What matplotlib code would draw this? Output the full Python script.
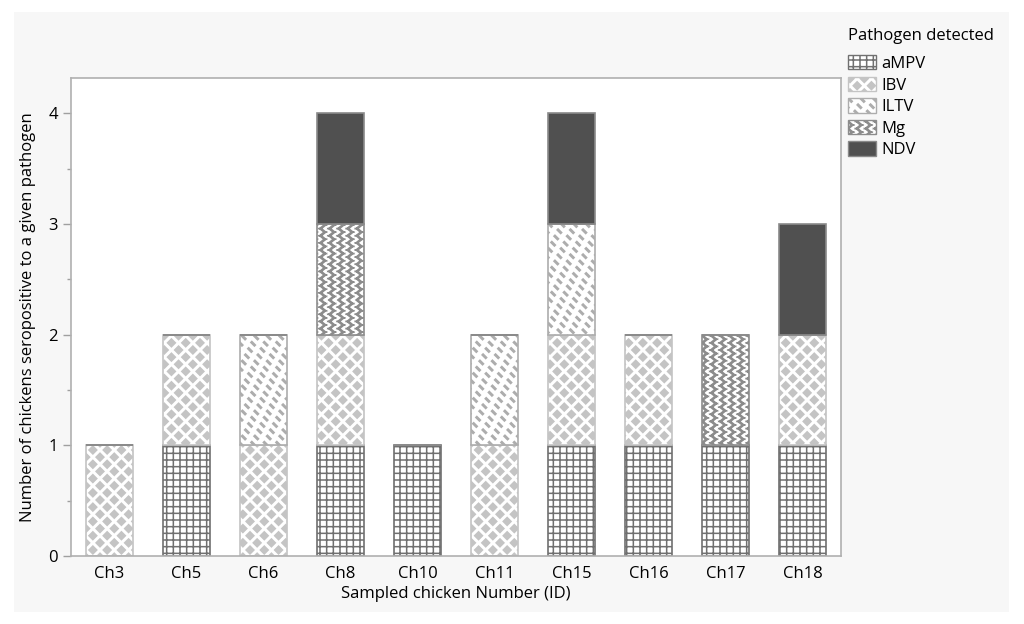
import warnings
import numpy as np
import matplotlib
matplotlib.use("Agg")
import matplotlib.pyplot as plt
import matplotlib.hatch as mhatch
from matplotlib.path import Path
from matplotlib.patches import Rectangle, Patch
from matplotlib.ticker import MultipleLocator

warnings.filterwarnings("ignore")

# data
chickens = ["Ch3", "Ch5", "Ch6", "Ch8", "Ch10", "Ch11", "Ch15", "Ch16", "Ch17", "Ch18"]
aMPV = [0, 1, 0, 1, 1, 0, 1, 1, 1, 1]
IBV  = [1, 1, 1, 1, 0, 1, 1, 1, 0, 1]
ILTV = [0, 0, 1, 0, 0, 1, 1, 0, 0, 0]
Mg   = [0, 0, 0, 1, 0, 0, 0, 0, 1, 0]
NDV  = [0, 0, 0, 1, 0, 0, 1, 0, 0, 1]


# --- custom hatch patterns (JMP style fills) ---
class _Custom(mhatch.HatchPatternBase):
    key = None

    def __init__(self, hatch, density):
        if hatch and self.key in hatch:
            self.verts, self.codes = self.build()
        else:
            self.verts, self.codes = np.empty((0, 2)), np.empty(0)
        self.num_vertices = len(self.verts)

    def set_vertices_and_codes(self, vertices, codes):
        vertices[:] = self.verts
        codes[:] = self.codes


def _segments(segs):
    v, c = [], []
    for (x0, y0, x1, y1) in segs:
        v += [(x0, y0), (x1, y1)]
        c += [Path.MOVETO, Path.LINETO]
    return np.array(v), np.array(c, dtype=Path.code_type)


def _polys(polys):
    v, c = [], []
    for p in polys:
        v += list(p) + [p[0]]
        c += [Path.MOVETO] + [Path.LINETO] * (len(p) - 1) + [Path.CLOSEPOLY]
    return np.array(v), np.array(c, dtype=Path.code_type)


def _lattice(n, shift):
    # rows at half spacing, each row shifted by `shift` columns
    pts = []
    rows = 2 * n
    for r in range(rows + 1):
        y = r / rows
        off = ((r * shift) % 1.0) / n
        pts += [(off + i / n, y) for i in range(-1, n + 1)]
    return pts


class GridHatch(_Custom):
    key = "g"

    def build(self):
        n = 15
        segs = []
        for i in range(n + 1):
            t = i / n
            segs.append((t, 0, t, 1))
            segs.append((0, t, 1, t))
        return _segments(segs)


class DiamondHatch(_Custom):
    key = "d"

    def build(self):
        n = 7
        h = 0.5 / n * 0.55
        polys = [[(x, y - h), (x + h, y), (x, y + h), (x - h, y)] for x, y in _lattice(n, 0.5)]
        return _polys(polys)


class DashHatch(_Custom):
    key = "k"

    def build(self):
        n = 8
        d = 0.018
        w = 0.005
        polys = [[(x - d - w, y + d - w), (x - d + w, y + d + w),
                  (x + d + w, y - d + w), (x + d - w, y - d - w)] for x, y in _lattice(n, 0.25)]
        return _polys(polys)


class ZigzagHatch(_Custom):
    key = "z"

    def build(self):
        ncols = 11
        nseg = 28
        amp = 0.022
        t = 0.018
        polys = []
        for i in range(ncols):
            x0 = (i + 0.5) / ncols
            for j in range(nseg):
                xa = x0 + (amp if j % 2 else -amp)
                xb = x0 + (-amp if j % 2 else amp)
                ya, yb = j / nseg, (j + 1) / nseg
                polys.append([(xa - t / 2, ya), (xb - t / 2, yb), (xb + t / 2, yb), (xa + t / 2, ya)])
        return _polys(polys)


mhatch._hatch_types.extend([GridHatch, DiamondHatch, DashHatch, ZigzagHatch])

series = [("aMPV", aMPV), ("IBV", IBV), ("ILTV", ILTV), ("Mg", Mg), ("NDV", NDV)]
styles = {
    "aMPV": dict(facecolor="white", edgecolor="#707070", hatch="g"),
    "IBV":  dict(facecolor="white", edgecolor="#c4c4c4", hatch="d"),
    "ILTV": dict(facecolor="white", edgecolor="#adadad", hatch="k"),
    "Mg":   dict(facecolor="white", edgecolor="#8c8c8c", hatch="z"),
    "NDV":  dict(facecolor="#505050", edgecolor="#8a8a8a", hatch=None),
}

plt.rcParams["font.family"] = ["Open Sans", "DejaVu Sans"]
plt.rcParams["hatch.linewidth"] = 1.1

fig = plt.figure(figsize=(10.24, 6.24), dpi=100, facecolor="white")
# light grey panel behind everything
fig.patches.append(Rectangle((0.0137, 0.019), 0.972, 0.962, transform=fig.transFigure,
                             facecolor="#f7f7f7", edgecolor="none", zorder=-10))

ax = fig.add_axes([0.0693, 0.109, 0.752, 0.766])
ax.set_facecolor("white")

x = np.arange(len(chickens))
bottom = np.zeros(len(chickens))
for name, vals in series:
    vals = np.array(vals, dtype=float)
    st = styles[name]
    ax.bar(x, vals, width=0.6, bottom=bottom, facecolor=st["facecolor"],
           edgecolor=st["edgecolor"], hatch=st["hatch"], linewidth=1.2)
    bottom += vals

ax.set_xlim(-0.5, len(chickens) - 0.5)
ax.set_ylim(0, 4.32)
ax.set_xticks(x)
ax.set_xticklabels(chickens, fontsize=12)
ax.yaxis.set_major_locator(MultipleLocator(1))
ax.yaxis.set_minor_locator(MultipleLocator(0.5))
ax.tick_params(axis="y", labelsize=12)
ax.tick_params(which="major", length=6, color="#a0a0a0", width=1)
ax.tick_params(which="minor", length=3, color="#a0a0a0", width=1)
ax.tick_params(axis="x", length=0, pad=7)
for sp in ax.spines.values():
    sp.set_color("#b0b0b0")
    sp.set_linewidth(1.2)

ax.set_xlabel("Sampled chicken Number (ID)", fontsize=12, labelpad=3)
ax.set_ylabel("Number of chickens seropositive to a given pathogen", fontsize=12, labelpad=9)

fig.text(0.828, 1 - 36 / 624, "Pathogen detected", fontsize=12, va="center", ha="left")
handles = [Patch(facecolor=styles[n]["facecolor"], edgecolor=styles[n]["edgecolor"],
                 hatch=styles[n]["hatch"], label=n) for n, _ in series]
leg = fig.legend(handles=handles, loc="upper left",
                 bbox_to_anchor=(0.828, 1 - 55 / 624), frameon=False, fontsize=12,
                 handlelength=1.7, handleheight=0.95, borderpad=0,
                 handletextpad=0.3, labelspacing=0.28, borderaxespad=0)

fig.savefig("out.png", dpi=100, facecolor="white")
